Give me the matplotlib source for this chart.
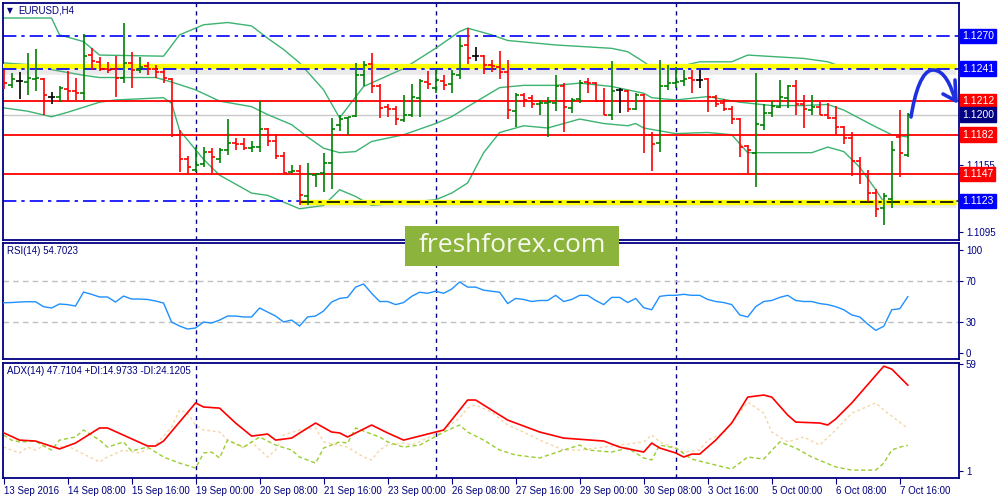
import matplotlib.pyplot as plt
import numpy as np
from matplotlib.path import Path
from matplotlib.patches import PathPatch, Rectangle

plt.rcParams['font.family'] = ['Liberation Sans', 'DejaVu Sans']

# EURUSD H4 bars (open, high, low, close)
opens = [1.1238, 1.1226, 1.1230, 1.1229, 1.1232, 1.1232, 1.1216, 1.1216, 1.1223, 1.1221,
         1.1219, 1.1253, 1.1247, 1.1241, 1.1241, 1.1233, 1.1246, 1.1240, 1.1243, 1.1241,
         1.1238, 1.1232, 1.1182, 1.1160, 1.1151, 1.1156, 1.1167, 1.1160, 1.1168, 1.1175,
         1.1174, 1.1170, 1.1171, 1.1187, 1.1176, 1.1163, 1.1149, 1.1150, 1.1127, 1.1146,
         1.1148, 1.1157, 1.1191, 1.1197, 1.1199, 1.1235, 1.1245, 1.1225, 1.1207, 1.1205,
         1.1195, 1.1200, 1.1215, 1.1229, 1.1224, 1.1230, 1.1227, 1.1235, 1.1262, 1.1252,
         1.1252, 1.1244, 1.1242, 1.1238, 1.1203, 1.1217, 1.1215, 1.1209, 1.1210, 1.1210,
         1.1225, 1.1206, 1.1214, 1.1229, 1.1228, 1.1212, 1.1200, 1.1222, 1.1221, 1.1205,
         1.1217, 1.1182, 1.1175, 1.1225, 1.1228, 1.1230, 1.1233, 1.1231, 1.1232, 1.1216,
         1.1210, 1.1205, 1.1196, 1.1172, 1.1166, 1.1191, 1.1201, 1.1207, 1.1215, 1.1225,
         1.1209, 1.1204, 1.1207, 1.1200, 1.1197, 1.1189, 1.1179, 1.1159, 1.1147, 1.1130,
         1.1117, 1.1125, 1.1180, 1.1164]
highs = [1.1240, 1.1237, 1.1238, 1.1255, 1.1258, 1.1233, 1.1220, 1.1225, 1.1239, 1.1233,
         1.1272, 1.1259, 1.1251, 1.1247, 1.1252, 1.1282, 1.1256, 1.1251, 1.1247, 1.1244,
         1.1240, 1.1233, 1.1186, 1.1163, 1.1171, 1.1171, 1.1170, 1.1170, 1.1196, 1.1179,
         1.1179, 1.1176, 1.1212, 1.1188, 1.1183, 1.1167, 1.1155, 1.1155, 1.1157, 1.1148,
         1.1166, 1.1197, 1.1200, 1.1198, 1.1246, 1.1248, 1.1255, 1.1227, 1.1209, 1.1208,
         1.1217, 1.1227, 1.1232, 1.1239, 1.1241, 1.1235, 1.1240, 1.1269, 1.1277, 1.1260,
         1.1253, 1.1249, 1.1257, 1.1249, 1.1219, 1.1219, 1.1217, 1.1213, 1.1216, 1.1235,
         1.1228, 1.1215, 1.1231, 1.1233, 1.1229, 1.1224, 1.1248, 1.1224, 1.1222, 1.1219,
         1.1218, 1.1184, 1.1249, 1.1244, 1.1242, 1.1240, 1.1240, 1.1240, 1.1233, 1.1217,
         1.1214, 1.1208, 1.1197, 1.1173, 1.1237, 1.1209, 1.1212, 1.1231, 1.1226, 1.1231,
         1.1217, 1.1217, 1.1211, 1.1210, 1.1208, 1.1190, 1.1184, 1.1162, 1.1151, 1.1134,
         1.1130, 1.1176, 1.1204, 1.1201]
lows = [1.1223, 1.1224, 1.1214, 1.1217, 1.1221, 1.1200, 1.1209, 1.1211, 1.1212, 1.1213,
        1.1213, 1.1240, 1.1239, 1.1237, 1.1216, 1.1228, 1.1224, 1.1237, 1.1235, 1.1233,
        1.1228, 1.1180, 1.1149, 1.1147, 1.1149, 1.1153, 1.1148, 1.1157, 1.1164, 1.1168,
        1.1168, 1.1167, 1.1167, 1.1172, 1.1160, 1.1148, 1.1148, 1.1119, 1.1119, 1.1135,
        1.1131, 1.1134, 1.1185, 1.1182, 1.1198, 1.1225, 1.1219, 1.1197, 1.1198, 1.1191,
        1.1193, 1.1198, 1.1198, 1.1223, 1.1219, 1.1222, 1.1219, 1.1232, 1.1245, 1.1248,
        1.1236, 1.1238, 1.1232, 1.1196, 1.1189, 1.1207, 1.1206, 1.1200, 1.1180, 1.1203,
        1.1184, 1.1201, 1.1210, 1.1219, 1.1211, 1.1200, 1.1195, 1.1201, 1.1202, 1.1204,
        1.1166, 1.1150, 1.1167, 1.1222, 1.1224, 1.1225, 1.1219, 1.1224, 1.1202, 1.1207,
        1.1203, 1.1192, 1.1162, 1.1148, 1.1135, 1.1186, 1.1198, 1.1206, 1.1206, 1.1200,
        1.1188, 1.1200, 1.1200, 1.1196, 1.1182, 1.1174, 1.1145, 1.1138, 1.1122, 1.1109,
        1.1102, 1.1117, 1.1144, 1.1162]
closes = [1.1228, 1.1232, 1.1230, 1.1233, 1.1233, 1.1217, 1.1216, 1.1224, 1.1221, 1.1219,
          1.1252, 1.1248, 1.1241, 1.1240, 1.1233, 1.1246, 1.1240, 1.1242, 1.1241, 1.1238,
          1.1233, 1.1182, 1.1160, 1.1153, 1.1155, 1.1167, 1.1162, 1.1168, 1.1175, 1.1174,
          1.1170, 1.1171, 1.1187, 1.1176, 1.1163, 1.1148, 1.1150, 1.1128, 1.1147, 1.1147,
          1.1157, 1.1187, 1.1196, 1.1198, 1.1235, 1.1244, 1.1225, 1.1206, 1.1205, 1.1196,
          1.1200, 1.1216, 1.1230, 1.1227, 1.1231, 1.1226, 1.1236, 1.1261, 1.1250, 1.1252,
          1.1244, 1.1243, 1.1238, 1.1204, 1.1217, 1.1213, 1.1209, 1.1210, 1.1211, 1.1225,
          1.1207, 1.1213, 1.1228, 1.1228, 1.1212, 1.1200, 1.1221, 1.1222, 1.1205, 1.1217,
          1.1182, 1.1174, 1.1225, 1.1228, 1.1229, 1.1232, 1.1231, 1.1231, 1.1216, 1.1209,
          1.1205, 1.1196, 1.1171, 1.1168, 1.1192, 1.1201, 1.1208, 1.1216, 1.1225, 1.1209,
          1.1205, 1.1207, 1.1200, 1.1197, 1.1189, 1.1179, 1.1159, 1.1147, 1.1130, 1.1116,
          1.1127, 1.1168, 1.1166, 1.1200]

# Bollinger bands, read at bar positions
bb_up_i = [0, 6, 7, 10, 12, 20, 22, 25, 28, 31, 33, 35, 37, 40, 42, 45, 50, 54, 57, 58, 61, 63,
           69, 76, 78, 80, 81, 84, 87, 91, 93, 100, 103, 105, 109, 112, 113]
bb_up = [1.1286, 1.1286, 1.1271, 1.1265, 1.1253, 1.1252, 1.1271, 1.1280, 1.1282, 1.1279, 1.1268,
         1.1258, 1.1246, 1.1222, 1.1197, 1.1225, 1.1241, 1.1259, 1.1274, 1.1277, 1.1271, 1.1266,
         1.1262, 1.1259, 1.1256, 1.1247, 1.1242, 1.1242, 1.1247, 1.1247, 1.1253, 1.1250, 1.1247,
         1.1242, 1.1244, 1.1241, 1.1241]
bb_mid_i = [0, 4, 6, 10, 12, 16, 19, 21, 24, 27, 31, 33, 36, 38, 40, 42, 44, 46, 50, 54, 56, 58,
            62, 65, 69, 72, 76, 80, 81, 84, 88, 92, 96, 100, 103, 105, 109, 111, 113]
bb_mid = [1.1246, 1.1244, 1.1240, 1.1235, 1.1233, 1.1233, 1.1233, 1.1229, 1.1222, 1.1212, 1.1207,
          1.1200, 1.1191, 1.1180, 1.1170, 1.1166, 1.1167, 1.1176, 1.1182, 1.1192, 1.1198, 1.1207,
          1.1224, 1.1226, 1.1226, 1.1228, 1.1225, 1.1219, 1.1215, 1.1213, 1.1216, 1.1211, 1.1208,
          1.1208, 1.1209, 1.1204, 1.1189, 1.1182, 1.1180]
bb_low_i = [0, 3, 6, 8, 12, 14, 20, 21, 22, 25, 27, 31, 33, 35, 37, 40, 42, 44, 46, 49, 54, 56,
            58, 60, 62, 65, 68, 72, 75, 78, 79, 80, 84, 88, 91, 93, 97, 101, 103, 105, 107, 109,
            110, 113]
bb_low = [1.1206, 1.1203, 1.1198, 1.1202, 1.1211, 1.1213, 1.1215, 1.1210, 1.1186, 1.1160, 1.1146,
          1.1130, 1.1128, 1.1122, 1.1116, 1.1119, 1.1133, 1.1127, 1.1119, 1.1121, 1.1124, 1.1130,
          1.1139, 1.1166, 1.1184, 1.1190, 1.1188, 1.1196, 1.1192, 1.1190, 1.1192, 1.1188, 1.1183,
          1.1184, 1.1182, 1.1166, 1.1166, 1.1166, 1.1171, 1.1167, 1.1153, 1.1133, 1.1122, 1.1121]

rsi = [48.8, 49, 49.5, 49.8, 49.8, 45, 43.7, 47.6, 47, 45.6, 59.2, 57, 54.4, 54.4, 49.5, 55.3,
       52.4, 52.4, 52, 50.5, 48.5, 30.1, 26.2, 23.3, 24.3, 30.1, 29.1, 32, 35.9, 35.9, 35, 35,
       43.7, 39.8, 35.9, 30.1, 32, 26.2, 35, 35.9, 40.8, 49.5, 53, 54, 64, 67, 58, 50, 50, 47,
       49, 55, 59, 58, 60, 58, 62, 69, 64, 64, 61, 60, 59, 48, 53, 52, 50, 51, 51, 56, 50, 52,
       56, 56, 51, 47, 54, 54, 49, 53, 44, 42, 55, 56, 56, 57, 56, 56, 52, 50, 49, 47, 37, 35,
       45, 50, 51, 54, 56, 51, 50, 50, 48, 47, 45, 42, 37, 35, 28, 22, 26, 42, 43, 54.7]

adx_i = [0, 2, 4, 7, 9, 12, 13, 18, 19, 20, 24, 25, 27, 29, 31, 33, 34, 36, 39, 41, 42, 43, 46,
         48, 50, 55, 58, 59, 63, 67, 70, 75, 77, 80, 81, 82, 84, 85, 86, 87, 89, 91, 93, 95, 96,
         98, 99, 102, 103, 104, 106, 110, 111, 113]
adx = [21.8, 17.8, 17.3, 13, 16.2, 24.4, 24.4, 14.6, 14.6, 17.3, 38, 35.8, 35.2, 27.1, 20, 21.1,
       17.8, 18.9, 27.1, 22.2, 21.7, 19.5, 26, 21.7, 17.8, 23.3, 39.6, 39.6, 28.7, 22.2, 18.9,
       17.3, 14, 11.3, 16.2, 13.5, 10.8, 8.6, 10.2, 10.2, 17.8, 27.1, 41.2, 42.3, 41.2, 31.4,
       27.6, 27.1, 26, 29.3, 38, 58, 56.4, 47.71]
pdi_i = [0, 1, 2, 4, 5, 6, 7, 9, 10, 12, 13, 15, 16, 18, 20, 22, 24, 25, 26, 27, 28, 30, 32, 34,
         36, 37, 39, 40, 42, 43, 44, 45, 47, 48, 50, 52, 55, 57, 58, 60, 62, 64, 67, 70, 72, 73,
         76, 78, 80, 81, 82, 84, 86, 88, 91, 93, 95, 97, 99, 101, 104, 106, 109, 110, 111, 112,
         113]
pdi = [20.6, 17.8, 16.8, 17.3, 14.6, 12.4, 17.8, 19.5, 23.3, 17.8, 14, 16.8, 11.9, 14, 8.6, 5.3,
       2.6, 10.8, 11.3, 8.1, 17.8, 14, 19.5, 15.1, 12.4, 8.6, 5.3, 13.5, 16.8, 16.2, 24.4, 22.7,
       19.5, 16.8, 14, 15.1, 22.2, 26, 22.2, 17.8, 12.4, 9.7, 8.1, 12.4, 15.1, 12.4, 11.3, 13.5,
       8.1, 7, 15.1, 13.5, 7.5, 5.3, 2.1, 8.6, 7.5, 16.8, 13.5, 8.6, 3.2, 1.5, 1.5, 5.3, 12.4, 14,
       14.97]
mdi_i = [0, 2, 3, 4, 5, 7, 8, 9, 12, 13, 15, 17, 19, 21, 22, 23, 24, 25, 27, 28, 30, 31, 33, 34,
         35, 37, 39, 40, 43, 45, 46, 47, 48, 50, 51, 53, 55, 57, 58, 59, 61, 63, 65, 67, 70, 72,
         75, 77, 80, 81, 82, 84, 85, 87, 88, 90, 93, 95, 96, 98, 100, 102, 104, 106, 109, 110,
         113]
mdi = [14, 10.8, 14, 12.4, 14.6, 14, 14.6, 12.4, 5.9, 8.6, 12.4, 10.8, 15.1, 24.9, 34.2, 32.5, 26,
       23.3, 22.2, 17.8, 13.5, 16.8, 8.6, 12.4, 20.6, 23.3, 24.4, 16.8, 14, 8.6, 7, 12.4, 15.1,
       16.2, 15.1, 18.9, 23.3, 29.8, 35.2, 36.9, 33, 26, 22.2, 17.8, 12.4, 12.4, 14, 15.1, 16.8,
       20.6, 16.8, 13.5, 11.3, 12.4, 17.8, 21.7, 38.5, 32.5, 22.2, 16.8, 19.5, 15.1, 23.3, 32.5,
       38, 34.2, 24.12]

date_labels = ['13 Sep 2016', '14 Sep 08:00', '15 Sep 16:00', '19 Sep 00:00', '20 Sep 08:00',
               '21 Sep 16:00', '23 Sep 00:00', '26 Sep 08:00', '27 Sep 16:00', '29 Sep 00:00',
               '30 Sep 08:00', '3 Oct 16:00', '5 Oct 00:00', '6 Oct 08:00', '7 Oct 16:00']
week_starts = [24, 54, 84]

red_levels = [1.1212, 1.1182, 1.1147]
bid = 1.1200
resist = 1.1241
support = 1.1123
top_level = 1.1270

NAVY = '#000080'
GREEN = '#008000'
RED = '#FF0000'
BLUE = '#0000FF'

fig = plt.figure(figsize=(10, 5), dpi=100)
L, W = 0.0025, 0.9565
ax = fig.add_axes([L, 0.52, W, 0.474])
ax_rsi = fig.add_axes([L, 0.282, W, 0.232])
ax_adx = fig.add_axes([L, 0.044, W, 0.231])

for a in (ax, ax_rsi, ax_adx):
    a.set_xlim(-0.125, 119.4)
    for s in a.spines.values():
        s.set_color(NAVY)
        s.set_linewidth(1.3)
    a.yaxis.tick_right()
    a.tick_params(axis='y', colors=NAVY, labelsize=7, length=3, width=0.8, pad=2)
    a.set_xticks([])
    for w in week_starts:
        a.axvline(w, color=NAVY, ls=(0, (3, 3)), lw=1, zorder=1)

# ---- main price panel
ax.set_ylim(1.10882, 1.12994)
# price grid ticks; the ones sitting under the level boxes stay unlabelled
ax.set_yticks([1.1095, 1.1125, 1.1155, 1.1185, 1.1215, 1.1245, 1.1275])
ax.set_yticklabels(['1.1095', '', '1.1155', '', '', '', ''])

bb_col = '#3CB371'
ax.plot(bb_up_i, bb_up, color=bb_col, lw=1, zorder=2)
ax.plot(bb_mid_i, bb_mid, color=bb_col, lw=1, zorder=2)
ax.plot(bb_low_i, bb_low, color=bb_col, lw=1, zorder=2)

for lv in red_levels:
    ax.axhline(lv, color=RED, lw=1.3, zorder=2)
ax.axhline(bid, color='#C8C8C8', lw=1, zorder=1.5)
ax.axhline(top_level, color=BLUE, lw=1.2, ls=(0, (8, 3, 2, 3)), zorder=2)
ax.axhline(support, color=BLUE, lw=1.2, ls=(0, (8, 3, 2, 3)), zorder=2)

# yellow channel marks with soft shadow
ax.plot([-0.4, 119], [resist - 0.0003, resist - 0.0003], color='#A0A0A0', lw=4, alpha=0.22,
        solid_capstyle='butt', zorder=2.5)
ax.plot([-0.4, 119], [resist + 0.0002, resist + 0.0002], color='#FFFF00', lw=3.8,
        solid_capstyle='butt', zorder=2.6)
ax.axhline(resist, color=BLUE, lw=1.2, ls=(0, (8, 3, 2, 3)), zorder=2.7)
ax.plot([37.1, 119], [support - 0.0004, support - 0.0004], color='#A0A0A0', lw=4, alpha=0.22,
        solid_capstyle='butt', zorder=2.5)
ax.plot([37.1, 119], [support - 0.0001, support - 0.0001], color='#FFFF00', lw=3.8,
        solid_capstyle='butt', zorder=2.6)
ax.plot([37.1, 119], [support - 0.0001, support - 0.0001], color='black', lw=1.2,
        ls=(0, (8, 3, 2, 3)), zorder=2.7)

o = np.array(opens); h = np.array(highs); lo = np.array(lows); c = np.array(closes)
idx = np.arange(len(o))
cols = np.where(c > o, GREEN, np.where(c < o, RED, 'black'))
ax.vlines(idx, lo, h, colors=cols, lw=1.2, zorder=3)
ax.hlines(o, idx - 0.42, idx, colors=cols, lw=1.2, zorder=3)
ax.hlines(c, idx, idx + 0.42, colors=cols, lw=1.2, zorder=3)

tr = ax.get_yaxis_transform()
for val, col in [(top_level, BLUE), (resist, BLUE), (1.1212, RED), (bid, NAVY),
                 (1.1182, RED), (1.1147, RED), (support, BLUE)]:
    ax.text(1.003, val, '%.4f' % val, transform=tr, color='white', fontsize=7.5, va='center',
            ha='left', clip_on=False, zorder=10,
            bbox=dict(boxstyle='square,pad=0.22', fc=col, ec=col))

# ---- RSI panel
ax_rsi.set_ylim(-5.8, 106.8)
ax_rsi.set_yticks([0, 30, 70, 100])
for lv in (30, 70):
    ax_rsi.axhline(lv, color='#C0C0C0', lw=1, ls=(0, (4, 3)), zorder=1)
ax_rsi.plot(idx, rsi, color='#1E90FF', lw=1, zorder=3)

# ---- ADX panel
ax_adx.set_ylim(-2.8, 60)
ax_adx.set_yticks([1, 59])
ax_adx.plot(mdi_i, mdi, color='#F5D5A5', lw=1, ls=(0, (2, 2)), zorder=2)
ax_adx.plot(pdi_i, pdi, color='#9ACD32', lw=1, ls=(0, (3, 2)), zorder=2)
ax_adx.plot(adx_i, adx, color=RED, lw=1.2, zorder=3)

ax_adx.set_xticks(np.arange(0, 8 * len(date_labels), 8))
ax_adx.set_xticklabels(date_labels)
ax_adx.tick_params(axis='x', colors=NAVY, labelsize=7, length=4, width=0.8, pad=2)
for lbl in ax_adx.get_xticklabels():
    lbl.set_horizontalalignment('left')

# ---- panel captions
fig.text(0.007, 1 - 10.5 / 500, '\u25bc', color=NAVY, fontsize=5.5, va='center',
         family=['DejaVu Sans'])
fig.text(0.018, 1 - 10.5 / 500, 'EURUSD,H4', color=NAVY, fontsize=7, va='center')
fig.text(0.007, 1 - 251.5 / 500, 'RSI(14) 54.7023', color=NAVY, fontsize=7, va='center')
fig.text(0.007, 1 - 371.5 / 500, 'ADX(14) 47.7104 +DI:14.9733 -DI:24.1205', color=NAVY,
         fontsize=7, va='center')

# ---- watermark
fig.patches.append(Rectangle((0.405, 1 - 266 / 500), 0.214, 40 / 500, transform=fig.transFigure,
                             fc='#8CB43C', ec='none', zorder=20))
fig.text(0.512, 1 - 246 / 500, 'freshforex.com', color='#F7F9F0', fontsize=19, ha='center',
         va='center', family=['Open Sans', 'DejaVu Sans'], zorder=21)

# ---- hand drawn forecast arrow
def px(x, y):
    return (x / 1000, 1 - y / 500)

verts = [px(911, 117), px(915, 92), px(922, 70), px(933, 70),
         px(944, 70), px(951, 85), px(955, 100)]
codes = [Path.MOVETO, Path.CURVE4, Path.CURVE4, Path.CURVE4,
         Path.CURVE4, Path.CURVE4, Path.CURVE4]
fig.patches.append(PathPatch(Path(verts, codes), transform=fig.transFigure, fc='none',
                             ec='#1E30E0', lw=2.6, capstyle='round', zorder=22))
head = Path([px(955, 80), px(956, 101), px(943, 94)], [Path.MOVETO, Path.LINETO, Path.LINETO])
fig.patches.append(PathPatch(head, transform=fig.transFigure, fc='none', ec='#1E30E0', lw=2.6,
                             capstyle='round', joinstyle='round', zorder=22))

fig.savefig('out.png', dpi=100)
